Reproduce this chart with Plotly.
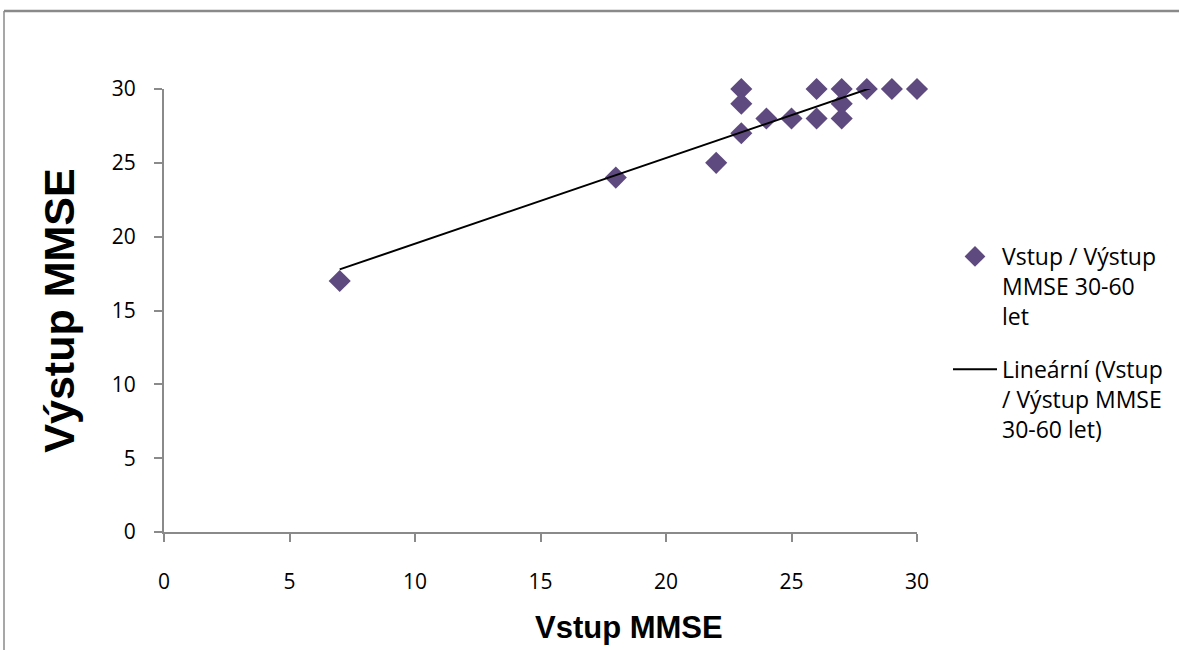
import numpy as np
import plotly.graph_objects as go

# Data
vstup = [7, 18, 22, 23, 23, 23, 24, 25, 26, 26, 27, 27, 27, 28, 29, 30]
vystup = [17, 24, 25, 30, 29, 27, 28, 28, 30, 28, 30, 29, 28, 30, 30, 30]
x_ticks = [0, 5, 10, 15, 20, 25, 30]
y_ticks = [0, 5, 10, 15, 20, 25, 30]
series_name = "Vstup / Výstup<br>MMSE 30-60<br>let"
trend_name = "Lineární (Vstup<br>/ Výstup MMSE<br>30-60 let)"
x_title = "Vstup MMSE"
y_title = "Výstup MMSE"

slope, intercept = np.polyfit(vstup, vystup, 1)
tx = [min(vstup), max(vstup)]
ty = [slope * v + intercept for v in tx]

W, H = 1179, 650
L, R, T, B = 164, 262, 89, 118
pw, ph = W - L - R, H - T - B

def px_x(p):
    return (p - L) / pw

def px_y(p):
    return (H - B - p) / ph

fig = go.Figure()
fig.add_trace(go.Scatter(
    x=vstup, y=vystup, mode="markers", name=series_name, legendgroup="a",
    marker=dict(symbol="diamond", size=17, color="#5E4A7E"),
    cliponaxis=False,
))
fig.add_trace(go.Scatter(
    x=tx, y=ty, mode="lines", name=trend_name, legendgroup="b",
    line=dict(color="black", width=2),
))

gray = "#8a8a8a"
fig.update_layout(
    width=W, height=H,
    margin=dict(l=L, r=R, t=T, b=B, autoexpand=False),
    paper_bgcolor="white", plot_bgcolor="white",
    showlegend=True,
    legend=dict(
        x=px_x(948), y=px_y(235), xanchor="left", yanchor="top",
        font=dict(family="Open Sans", size=23, color="black"),
        valign="top", itemwidth=44, tracegroupgap=20,
        bgcolor="rgba(0,0,0,0)",
    ),
    xaxis=dict(
        range=[0, 30], tickvals=x_ticks, showgrid=False, zeroline=False,
        showline=True, linecolor=gray, linewidth=2,
        ticks="outside", ticklen=8, tickwidth=2, tickcolor=gray,
        tickfont=dict(family="Open Sans", size=21, color="black"),
        ticklabelstandoff=22,
    ),
    yaxis=dict(
        range=[0, 30], tickvals=y_ticks, showgrid=False, zeroline=False,
        showline=True, linecolor=gray, linewidth=2,
        ticks="outside", ticklen=8, tickwidth=2, tickcolor=gray,
        tickfont=dict(family="Open Sans", size=21, color="black"),
        ticklabelstandoff=14,
        title=dict(text="<b>" + y_title + "</b>", standoff=24,
                   font=dict(family="Arial", size=43, color="black")),
    ),
    annotations=[
        dict(text="<b>" + x_title + "</b>", xref="paper", yref="paper",
             x=px_x(629), y=px_y(627), xanchor="center", yanchor="middle",
             showarrow=False,
             font=dict(family="Arial", size=31, color="black")),
    ],
    shapes=[
        dict(type="line", xref="paper", yref="paper",
             x0=px_x(4), x1=px_x(W), y0=px_y(11), y1=px_y(11),
             line=dict(color=gray, width=2.5)),
        dict(type="line", xref="paper", yref="paper",
             x0=px_x(4), x1=px_x(4), y0=px_y(11), y1=px_y(H),
             line=dict(color=gray, width=1.5)),
    ],
)

fig.write_html("out.html", config={"displayModeBar": False})
